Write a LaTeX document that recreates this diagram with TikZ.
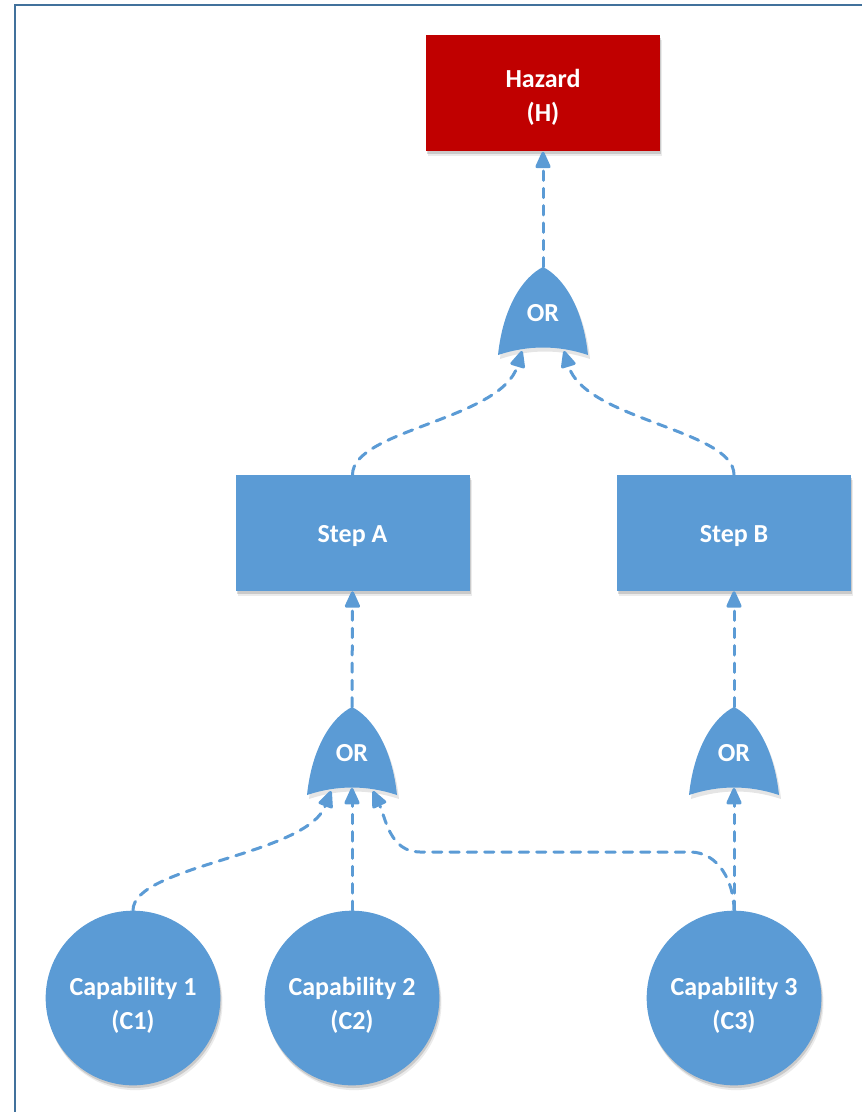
\documentclass[tikz,border=0pt]{standalone}
\usepackage{fontspec}
\setmainfont{Carlito}
\usetikzlibrary{arrows.meta,shadows}

\definecolor{boxblue}{HTML}{5B9BD5}
\definecolor{hazred}{HTML}{C00000}
\definecolor{frameblue}{HTML}{41719C}

% a tall strut on the first line lowers a text block
\newcommand\firstline[1]{\rule{0pt}{#1}}

\tikzset{
  softshadow/.style={
    drop shadow={shadow xshift=0.8pt,shadow yshift=-2pt,opacity=0.14,fill=black},
    drop shadow={shadow xshift=1.6pt,shadow yshift=-3.6pt,opacity=0.08,fill=black}},
  label font/.style={text=white,font=\fontsize{19.5}{25.5}\selectfont\bfseries,align=center},
  eventbox/.style={rectangle,fill=boxblue,minimum width=175.5pt,minimum height=87pt,
    inner sep=0pt,softshadow,label font},
  hazardbox/.style={eventbox,fill=hazred},
  capnode/.style={circle,fill=boxblue,minimum size=131pt,inner sep=0pt,softshadow,
    label font},
  gatetext/.style={label font,inner sep=0pt},
  conn/.style={draw=boxblue,line width=2.25pt,line cap=round,
    dash pattern=on 7pt off 6pt,
    -{Triangle[length=14pt,width=12pt,round]}},
}

% OR gate pointing upwards: #1 name, (#2,#3) position of its tip
\newcommand\orgate[3]{%
  \begin{scope}[shift={(#2,#3)}]
    \fill[black,opacity=0.10] (2,4) .. controls (-18,14) and (-38,44) .. (-43,92)
      .. controls (-13,82) and (17,82) .. (47,92)
      .. controls (42,44) and (22,14) .. (2,4) -- cycle;
    \fill[boxblue] (0,0) .. controls (-20,10) and (-40,40) .. (-45,88)
      .. controls (-15,78) and (15,78) .. (45,88)
      .. controls (40,40) and (20,10) .. (0,0) -- cycle;
    \coordinate (#1-tip) at (0,0);
    \coordinate (#1-l) at (-21,84);
    \coordinate (#1-c) at (0,81);
    \coordinate (#1-r) at (21,84);
    \node[gatetext] (#1) at (0,46) {OR};
  \end{scope}}

\begin{document}
\begin{tikzpicture}[x=0.75pt,y=-0.75pt]
  \useasboundingbox (0,0) rectangle (862,1112);

  % outer frame (only its top and left edges fall inside the page)
  \coordinate (frameTL) at (15,5);
  \coordinate (frameBL) at (15,1112);
  \coordinate (frameTR) at (862,5);
  \draw[frameblue,line width=2.2pt] (frameBL) -- (frameTL) -- (frameTR);

  % events
  \node[hazardbox] (haz) at (543,93.5) {\firstline{20pt}Hazard\\(H)};
  \node[eventbox] (sa) at (352.5,533) {\firstline{18pt}Step A};
  \node[eventbox] (sb) at (734,533) {\firstline{18pt}Step B};

  % capabilities
  \node[capnode] (c1) at (133,998) {\firstline{24pt}Capability 1\\(C1)};
  \node[capnode] (c2) at (352,998) {\firstline{24pt}Capability 2\\(C2)};
  \node[capnode] (c3) at (734,998) {\firstline{24pt}Capability 3\\(C3)};

  % gates
  \orgate{g1}{543}{267}
  \orgate{g2}{352}{707}
  \orgate{g3}{734}{707}

  % connectors
  \draw[conn] (g1-tip) -- (haz.south);
  \draw[conn] (sa.north) .. controls +(0,-45) and +(-21,69) .. (g1-l);
  \draw[conn] (sb.north) .. controls +(0,-45) and +(21,69) .. (g1-r);

  \draw[conn] (g2-tip) -- (sa.south);
  \draw[conn] (g3-tip) -- (sb.south);

  \draw[conn] (c1.north) .. controls +(0,-45) and +(-25,65) .. (g2-l);
  \draw[conn] (c2.north) -- (g2-c);
  \draw[conn] (c3.north) to[out=90,in=0] (690,852) -- (420,852)
    to[out=180,in=-65] (g2-r);
  \draw[conn] (c3.north) -- (g3-c);
\end{tikzpicture}
\end{document}
